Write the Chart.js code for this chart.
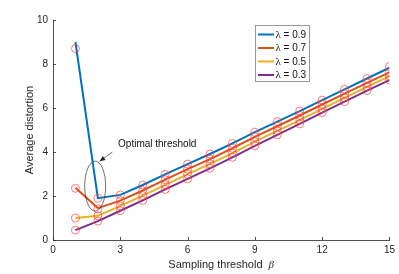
<!DOCTYPE html>
<html><head><meta charset="utf-8">
<script src="https://cdn.jsdelivr.net/npm/chart.js@4/dist/chart.umd.min.js"></script>
<style>html,body{margin:0;padding:0;background:#fff}#wrap{width:399px;height:274px}</style>
</head><body><div id="wrap"><canvas id="c" width="399" height="274"></canvas></div>
<script>
const xValues = [1,2,3,4,5,6,7,8,9,10,11,12,13,14,15];
const lambda09 = [9.0,1.9,2.05,2.5,2.98,3.45,3.91,4.39,4.9,5.38,5.86,6.36,6.85,7.34,7.83];
const lambda07 = [2.38,1.45,1.79,2.25,2.74,3.22,3.68,4.17,4.69,5.17,5.66,6.16,6.65,7.14,7.62];
const lambda05 = [1.0,1.1,1.55,2.02,2.51,2.99,3.46,3.95,4.47,4.96,5.45,5.96,6.46,6.96,7.45];
const lambda03 = [0.45,0.86,1.33,1.8,2.3,2.78,3.26,3.76,4.28,4.78,5.28,5.79,6.29,6.79,7.27];
const sim09 = [8.7,1.9,2.05,2.5,2.98,3.45,3.91,4.39,4.9,5.38,5.86,6.36,6.85,7.34,7.88];
const sim07 = [2.35,1.41,1.79,2.25,2.74,3.22,3.68,4.17,4.69,5.17,5.66,6.16,6.65,7.14,7.62];
const sim05 = [1.0,1.1,1.55,2.02,2.51,2.99,3.46,3.95,4.47,4.96,5.45,5.96,6.46,6.96,7.45];
const sim03 = [0.45,0.86,1.33,1.8,2.3,2.78,3.26,3.76,4.28,4.78,5.28,5.79,6.29,6.79,7.27];
const seriesNames = ['0.9','0.7','0.5','0.3'];
const xTicks = [0,3,6,9,12,15];
const yTicks = [0,2,4,6,8,10];
const annotationText = 'Optimal threshold';
const xTitle = 'Sampling threshold';
const yTitle = 'Average distortion';

const colors = ['#0072BD','#D95319','#EDB120','#7E2F8E'];
const lines = [lambda09,lambda07,lambda05,lambda03];
const sims = [sim09,sim07,sim05,sim03];
const pts = a => a.map((v,i)=>({x:xValues[i],y:v}));

const datasets = [];
lines.forEach((arr,i)=>datasets.push({label:'λ = '+seriesNames[i],data:pts(arr),borderColor:colors[i],backgroundColor:colors[i],borderWidth:2,pointRadius:0,tension:0,order:2}));
sims.forEach((arr,i)=>datasets.push({label:'sim'+i,data:pts(arr),showLine:false,pointStyle:'circle',pointRadius:4,borderWidth:0.8,borderColor:'rgba(255,60,60,0.85)',backgroundColor:'rgba(0,0,0,0)',order:1}));

const SANS = '"Liberation Sans", Arial, sans-serif';

const deco = {
  id:'deco',
  afterDraw(chart){
    const ctx = chart.ctx, xs = chart.scales.x, ys = chart.scales.y, a = chart.chartArea;
    ctx.save();
    // inward ticks
    ctx.strokeStyle = '#262626'; ctx.lineWidth = 0.8;
    xTicks.forEach(t=>{const px=Math.round(xs.getPixelForValue(t))+0.5;ctx.beginPath();ctx.moveTo(px,a.bottom);ctx.lineTo(px,a.bottom-3);ctx.stroke();});
    yTicks.forEach(t=>{const py=Math.round(ys.getPixelForValue(t))+0.5;ctx.beginPath();ctx.moveTo(a.left,py);ctx.lineTo(a.left+3,py);ctx.stroke();});
    // ellipse
    const cx = xs.getPixelForValue(1.88), cy = ys.getPixelForValue(2.45);
    ctx.strokeStyle = '#333'; ctx.lineWidth = 0.7;
    ctx.beginPath(); ctx.ellipse(cx,cy,10.5,25,0,0,Math.PI*2); ctx.stroke();
    // arrow
    const x1 = xs.getPixelForValue(2.65), y1 = ys.getPixelForValue(4.0);
    const x2 = xs.getPixelForValue(2.08), y2 = ys.getPixelForValue(3.58);
    ctx.beginPath(); ctx.moveTo(x1,y1); ctx.lineTo(x2,y2); ctx.stroke();
    const ang = Math.atan2(y2-y1,x2-x1);
    ctx.fillStyle='#222';
    ctx.beginPath(); ctx.moveTo(x2,y2);
    ctx.lineTo(x2-6*Math.cos(ang-0.4),y2-6*Math.sin(ang-0.4));
    ctx.lineTo(x2-6*Math.cos(ang+0.4),y2-6*Math.sin(ang+0.4));
    ctx.closePath(); ctx.fill();
    // annotation text
    ctx.fillStyle = '#111'; ctx.font = '10px '+SANS; ctx.textBaseline='middle'; ctx.textAlign='left';
    ctx.fillText(annotationText, xs.getPixelForValue(2.9), ys.getPixelForValue(4.35));
    // legend box
    const bx=255.5, by=25.5, bw=54, bh=56;
    ctx.fillStyle='#fff'; ctx.fillRect(bx,by,bw,bh);
    ctx.strokeStyle='#999'; ctx.lineWidth=1; ctx.strokeRect(bx,by,bw,bh);
    const rows=[34.5,48,61.5,75];
    rows.forEach((ry,i)=>{
      ctx.strokeStyle=colors[i]; ctx.lineWidth=2;
      ctx.beginPath(); ctx.moveTo(258,ry); ctx.lineTo(274,ry); ctx.stroke();
      ctx.fillStyle='#111'; ctx.textBaseline='middle';
      ctx.font='11px "Liberation Serif", "Times New Roman", serif';
      ctx.fillText('λ',275.5,ry+0.5);
      const w = ctx.measureText('λ').width;
      ctx.font='10px '+SANS;
      ctx.fillText(' = '+seriesNames[i],275.5+w,ry+0.5);
    });
    // x title
    ctx.fillStyle='#262626'; ctx.textBaseline='middle';
    const t1 = xTitle+'  ';
    ctx.font='11px '+SANS; const w1 = ctx.measureText(t1).width;
    ctx.font='italic 11px "Liberation Serif", serif'; const w2 = ctx.measureText('β').width;
    const sx = (a.left+a.right)/2 - (w1+w2)/2;
    ctx.font='11px '+SANS; ctx.textAlign='left'; ctx.fillText(t1,sx,265);
    ctx.font='italic 11px "Liberation Serif", serif'; ctx.fillText('β',sx+w1,265);
    // y title
    ctx.save();
    ctx.translate(30,(a.top+a.bottom)/2); ctx.rotate(-Math.PI/2);
    ctx.font='11px '+SANS; ctx.textAlign='center'; ctx.textBaseline='middle';
    ctx.fillText(yTitle,0,0);
    ctx.restore();
    ctx.restore();
  }
};

new Chart(document.getElementById('c'),{
  type:'line',
  data:{datasets},
  options:{
    responsive:false, animation:false, devicePixelRatio:1,
    layout:{padding:{top:20,right:8,left:0,bottom:0}},
    plugins:{legend:{display:false},tooltip:{enabled:false}},
    scales:{
      x:{type:'linear',min:0,max:15,
        afterBuildTicks:s=>{s.ticks=xTicks.map(v=>({value:v}));},
        afterFit:s=>{s.height=34;},
        grid:{display:true,drawOnChartArea:false,drawTicks:false},
        border:{display:true,color:'#262626',width:0.8},
        ticks:{padding:4,color:'#262626',font:{family:SANS,size:10},maxRotation:0}
      },
      y:{type:'linear',min:0,max:10,
        afterBuildTicks:s=>{s.ticks=yTicks.map(v=>({value:v}));},
        afterFit:s=>{s.width=53;},
        grid:{display:true,drawOnChartArea:false,drawTicks:false},
        border:{display:true,color:'#262626',width:0.8},
        ticks:{padding:5,color:'#262626',font:{family:SANS,size:10}}
      }
    }
  },
  plugins:[deco]
});
</script></body></html>
